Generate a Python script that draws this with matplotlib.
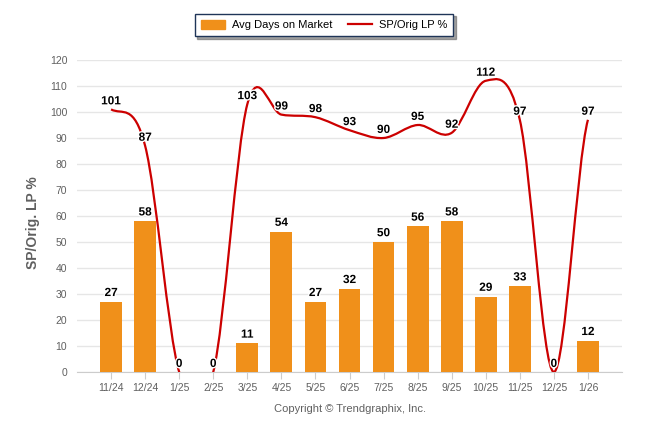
import matplotlib
matplotlib.use("Agg")
import matplotlib.pyplot as plt
import matplotlib.patheffects as pe
from matplotlib.path import Path
from matplotlib.patches import PathPatch
import numpy as np

# ---- data ----
months = ['11/24', '12/24', '1/25', '2/25', '3/25', '4/25', '5/25', '6/25',
          '7/25', '8/25', '9/25', '10/25', '11/25', '12/25', '1/26']
days_on_market = [27, 58, 0, 0, 11, 54, 27, 32, 50, 56, 58, 29, 33, 0, 12]
sp_orig_lp = [101, 87, 0, 0, 103, 99, 98, 93, 90, 95, 92, 112, 97, 0, 97]

bar_color = '#f0901a'
line_color = '#cc0000'
grid_color = '#e6e6e6'
text_gray = '#606060'

plt.rcParams['font.family'] = ['Liberation Sans', 'DejaVu Sans']


def spline_path(xs, ys):
    """cardinal spline (tension 0.5) as bezier path"""
    n = len(xs)
    m = []
    for i in range(n):
        a = ys[max(i - 1, 0)]
        b = ys[min(i + 1, n - 1)]
        m.append((b - a) / 2.0)
    verts = [(xs[0], ys[0])]
    codes = [Path.MOVETO]
    for i in range(n - 1):
        dx = xs[i + 1] - xs[i]
        verts += [(xs[i] + dx / 3, ys[i] + m[i] / 3),
                  (xs[i + 1] - dx / 3, ys[i + 1] - m[i + 1] / 3),
                  (xs[i + 1], ys[i + 1])]
        codes += [Path.CURVE4] * 3
    return Path(verts, codes)


fig = plt.figure(figsize=(6.46, 4.34), dpi=100)
ax = fig.add_axes([77 / 646, 1 - 372 / 434, 545 / 646, 312 / 434])

x = np.arange(len(months))
ax.bar(x, days_on_market, width=0.64, color=bar_color, zorder=2)

patch = PathPatch(spline_path(list(x), sp_orig_lp), facecolor='none',
                  edgecolor=line_color, linewidth=1.6, zorder=3)
ax.add_patch(patch)

halo = [pe.withStroke(linewidth=2, foreground='white')]
for i, v in enumerate(days_on_market):
    if v == 0:
        continue
    ax.annotate(str(v), (x[i], v), xytext=(0, 2), textcoords='offset points',
                ha='center', va='bottom', fontsize=8.5, fontweight='bold',
                color='black', zorder=5, path_effects=halo)
for i, v in enumerate(sp_orig_lp):
    ax.annotate(str(v), (x[i], v), xytext=(0, 1.5), textcoords='offset points',
                ha='center', va='bottom', fontsize=8.5, fontweight='bold',
                color='black', zorder=5, path_effects=halo)

ax.set_xlim(-1, len(months))
ax.set_ylim(0, 120)
ax.set_yticks(range(0, 121, 10))
ax.set_xticks(x)
ax.set_xticklabels(months)
ax.tick_params(axis='y', length=0, labelsize=7.5, labelcolor=text_gray, pad=7)
ax.tick_params(axis='x', length=5, color='#cccccc', labelsize=7.5,
               labelcolor=text_gray, pad=3)
ax.grid(axis='y', color=grid_color, linewidth=1)
ax.set_axisbelow(True)
for s in ['top', 'right', 'left']:
    ax.spines[s].set_visible(False)
ax.spines['bottom'].set_color('#cccccc')
ax.spines['bottom'].set_zorder(1)

ax.set_ylabel('SP/Orig. LP %', fontsize=10, fontweight='bold', color=text_gray,
              labelpad=1)
ax.yaxis.set_label_coords(-0.068, 0.48)

leg = fig.legend(handles=[plt.Rectangle((0, 0), 1, 1, color=bar_color),
                          plt.Line2D([], [], color=line_color, linewidth=1.6)],
                 labels=['Avg Days on Market', 'SP/Orig LP %'],
                 loc='center', bbox_to_anchor=(324 / 646, 1 - 25 / 434), ncol=2,
                 fontsize=8, frameon=True, fancybox=False, shadow=True,
                 handlelength=2.2, handleheight=0.9, columnspacing=1.4,
                 handletextpad=0.6, borderpad=0.55)
leg.get_frame().set_edgecolor('#1f3558')
leg.get_frame().set_linewidth(1)

fig.text(350 / 646, 1 - 409 / 434, 'Copyright \u00a9 Trendgraphix, Inc.',
         ha='center', va='center', fontsize=8, color=text_gray)

fig.savefig('out.png', dpi=100)
